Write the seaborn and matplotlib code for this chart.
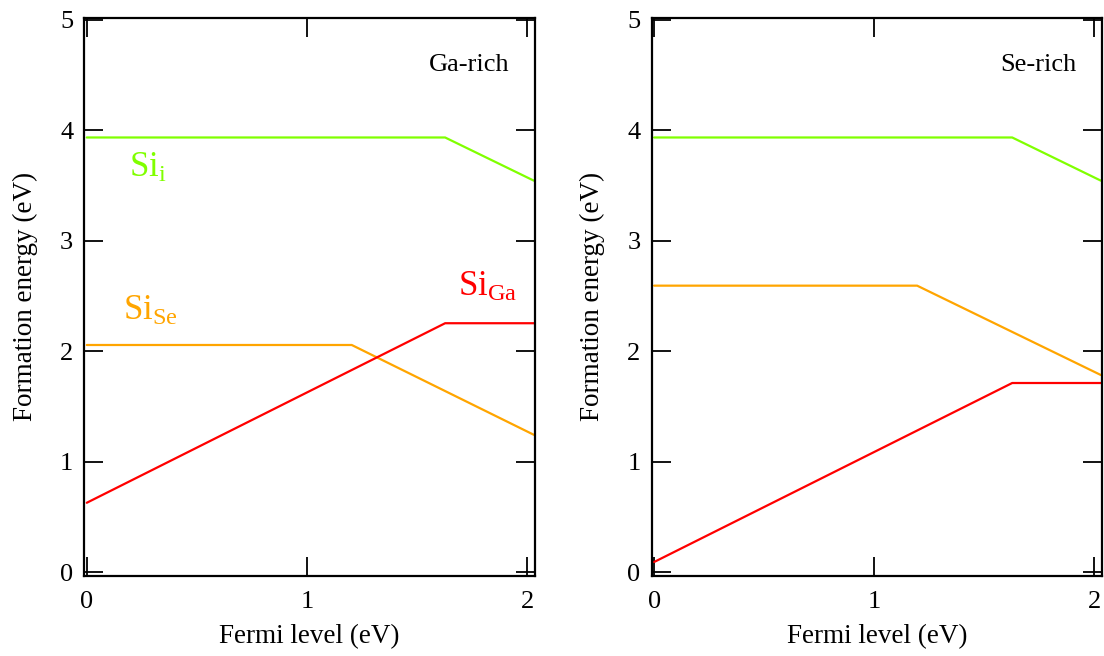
import pandas as pd
import matplotlib.pyplot as plt
import seaborn as sns

# Formation energy vs Fermi level, piecewise-linear defect lines
defects = ['Si_i', 'Si_Se', 'Si_Ga']

ga_rich_x = {'Si_i': [0.0, 1.627, 2.03], 'Si_Se': [0.0, 1.203, 2.03], 'Si_Ga': [0.0, 1.627, 2.03]}
ga_rich_y = {'Si_i': [3.936, 3.936, 3.545], 'Si_Se': [2.058, 2.058, 1.245], 'Si_Ga': [0.63, 2.255, 2.255]}

se_rich_x = {'Si_i': [0.0, 1.627, 2.03], 'Si_Se': [0.0, 1.195, 2.03], 'Si_Ga': [0.0, 1.627, 2.03]}
se_rich_y = {'Si_i': [3.936, 3.936, 3.545], 'Si_Se': [2.595, 2.595, 1.786], 'Si_Ga': [0.094, 1.714, 1.714]}

panel_titles = ['Ga-rich', 'Se-rich']
colors = {'Si_i': '#80FF00', 'Si_Se': '#FFA500', 'Si_Ga': '#FF0000'}

rows = []
for panel, xs, ys in [('Ga-rich', ga_rich_x, ga_rich_y), ('Se-rich', se_rich_x, se_rich_y)]:
    for d in defects:
        for x, y in zip(xs[d], ys[d]):
            rows.append({'panel': panel, 'defect': d, 'Fermi': x, 'E': y})
df = pd.DataFrame(rows)

sns.set_style('ticks')
plt.rcParams['font.family'] = ['Liberation Serif', 'DejaVu Serif']
plt.rcParams['mathtext.fontset'] = 'custom'
plt.rcParams['mathtext.rm'] = 'Liberation Serif'
plt.rcParams['mathtext.it'] = 'Liberation Serif'
plt.rcParams['text.color'] = 'black'
plt.rcParams['axes.labelcolor'] = 'black'

fig = plt.figure(figsize=(11.04, 6.56), dpi=100)
ax1 = fig.add_axes([0.0764, 0.1224, 0.4082, 0.8506])
ax2 = fig.add_axes([0.5903, 0.1224, 0.4079, 0.8506])

for ax, title in zip([ax1, ax2], panel_titles):
    sub = df[df['panel'] == title]
    sns.lineplot(data=sub, x='Fermi', y='E', hue='defect', palette=colors,
                 sort=False, estimator=None, legend=False, linewidth=1.6, ax=ax)
    ax.set_xlim(-0.011, 2.035)
    ax.set_ylim(-0.03, 5.02)
    ax.set_xticks([0, 1, 2])
    ax.set_yticks([0, 1, 2, 3, 4, 5])
    ax.tick_params(direction='in', length=14, width=1.3, top=True, right=True,
                   labelsize=19, colors='black')
    ax.tick_params(axis='x', pad=11)
    ax.tick_params(axis='y', pad=8)
    for s in ax.spines.values():
        s.set_linewidth(1.6)
        s.set_color('black')
    ax.set_xlabel('Fermi level (eV)', fontsize=19.5, labelpad=8)
    ax.set_ylabel('Formation energy (eV)', fontsize=19.5, labelpad=16)
    ax.text(1.92, 4.59, title, fontsize=19, ha='right', va='center')

ax1.text(0.19, 3.58, r'Si$_\mathrm{i}$', color=colors['Si_i'], fontsize=25, va='baseline')
ax1.text(0.163, 2.285, r'Si$_\mathrm{Se}$', color=colors['Si_Se'], fontsize=25, va='baseline')
ax1.text(1.686, 2.50, r'Si$_\mathrm{Ga}$', color=colors['Si_Ga'], fontsize=25, va='baseline')

plt.savefig('out.png', dpi=100)
